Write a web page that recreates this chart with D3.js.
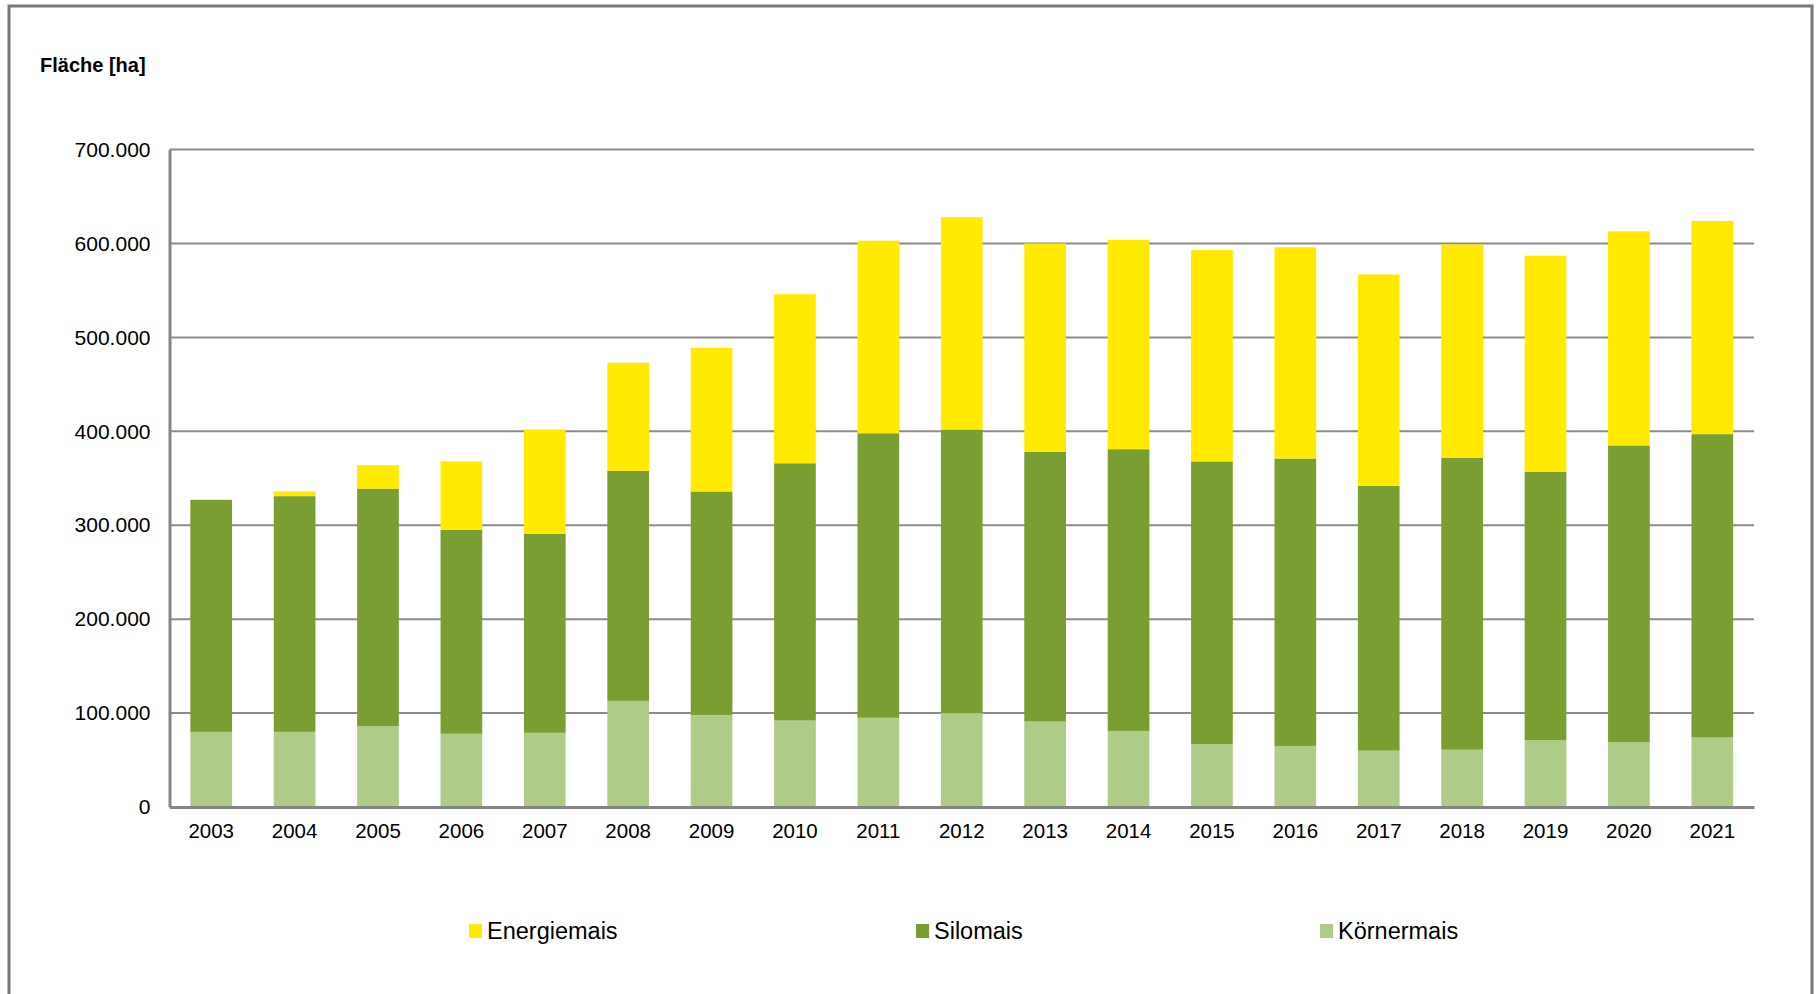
<!DOCTYPE html>
<html>
<head>
<meta charset="utf-8">
<script src="https://cdn.jsdelivr.net/npm/d3@7"></script>
<style>
  body { margin: 0; background: #fff; }
  text { font-family: "Liberation Sans", Arial, sans-serif; }
</style>
</head>
<body>
<div id="chart"></div>
<script>
var years = ["2003","2004","2005","2006","2007","2008","2009","2010","2011","2012",
             "2013","2014","2015","2016","2017","2018","2019","2020","2021"];
var koernermais = [80000, 80000, 86000, 78000, 79000, 113000, 98000, 92000, 95000, 100000,
                   91000, 81000, 67000, 65000, 60000, 61000, 71000, 69000, 74000];
var silomais    = [247000, 251000, 253000, 217000, 212000, 245000, 238000, 274000, 303000, 302000,
                   287000, 300000, 301000, 306000, 282000, 311000, 286000, 316000, 323000];
var energiemais = [600, 5000, 25000, 73000, 111000, 115000, 153000, 180000, 205000, 226000,
                   222000, 223000, 225000, 225000, 225000, 227000, 230000, 228000, 227000];
var yTicks = [0, 100000, 200000, 300000, 400000, 500000, 600000, 700000];
var seriesNames = ["Körnermais", "Silomais", "Energiemais"];
var legendOrder = ["Energiemais", "Silomais", "Körnermais"];

var colors = { "Körnermais": "#aecb88", "Silomais": "#7a9e32", "Energiemais": "#ffea00" };

var width = 1818, height = 994;
var margin = { top: 149.6, right: 64, bottom: 187, left: 169.5 };

var svg = d3.select('#chart')
    .append('svg')
    .attr('width', width)
    .attr('height', height);

// outer frame
svg.append('rect')
    .attr('x', 9)
    .attr('y', 6)
    .attr('width', 1803)
    .attr('height', 1100)
    .attr('fill', 'none')
    .attr('stroke', '#777')
    .attr('stroke-width', 3);

var x = d3.scaleBand()
    .domain(years)
    .range([margin.left, width - margin.right])
    .paddingInner(0.5)
    .paddingOuter(0.25);

var y = d3.scaleLinear()
    .domain([0, 700000])
    .range([height - margin.bottom, margin.top]);

var table = years.map(function(yr, i) {
    return { year: yr, "Körnermais": koernermais[i], "Silomais": silomais[i], "Energiemais": energiemais[i] };
});
var stacked = d3.stack().keys(seriesNames)(table);

// gridlines
svg.append('g')
    .selectAll('line')
    .data(yTicks.slice(1))
    .enter()
    .append('line')
    .attr('x1', margin.left)
    .attr('x2', width - margin.right)
    .attr('y1', d => y(d))
    .attr('y2', d => y(d))
    .attr('stroke', '#8c8c8c')
    .attr('stroke-width', 2);

// bars
svg.append('g')
    .selectAll('g')
    .data(stacked)
    .enter()
    .append('g')
    .attr('fill', d => colors[d.key])
    .selectAll('rect')
    .data(d => d)
    .enter()
    .append('rect')
    .attr('x', d => x(d.data.year))
    .attr('y', d => y(d[1]))
    .attr('width', x.bandwidth())
    .attr('height', d => y(d[0]) - y(d[1]));

// y axis
var fmt = d3.formatLocale({ decimal: ",", thousands: ".", grouping: [3], currency: ["", "€"] }).format(",");
var yAxis = svg.append('g')
    .attr('transform', 'translate(' + margin.left + ',0)')
    .call(d3.axisLeft(y).tickValues(yTicks).tickSize(0).tickPadding(19).tickFormat(fmt));
yAxis.select('.domain').attr('stroke', '#858585').attr('stroke-width', 3);
yAxis.selectAll('text')
    .attr('font-size', '21px')
    .attr('fill', '#000')
    .style('font-family', '"Liberation Sans", Arial, sans-serif');

// x axis
var xAxis = svg.append('g')
    .attr('transform', 'translate(0,' + (height - margin.bottom) + ')')
    .call(d3.axisBottom(x).tickSize(0).tickPadding(16));
xAxis.select('.domain').attr('stroke', '#858585').attr('stroke-width', 3);
xAxis.selectAll('text')
    .attr('font-size', '20.5px')
    .attr('fill', '#000')
    .style('font-family', '"Liberation Sans", Arial, sans-serif');

// unit label
svg.append('text')
    .attr('x', 40)
    .attr('y', 72)
    .attr('font-size', '20px')
    .attr('font-weight', 700)
    .attr('fill', '#000')
    .text('Fläche [ha]');

// legend
var legendX = [469, 916, 1320];
var legend = svg.append('g')
    .selectAll('g')
    .data(legendOrder)
    .enter()
    .append('g')
    .attr('transform', (d, i) => 'translate(' + legendX[i] + ',924)');
legend.append('rect')
    .attr('width', 13)
    .attr('height', 14)
    .attr('fill', d => colors[d]);
legend.append('text')
    .attr('x', 18)
    .attr('y', 14.5)
    .attr('font-size', '23.5px')
    .attr('fill', '#000')
    .text(d => d);
</script>
</body>
</html>
